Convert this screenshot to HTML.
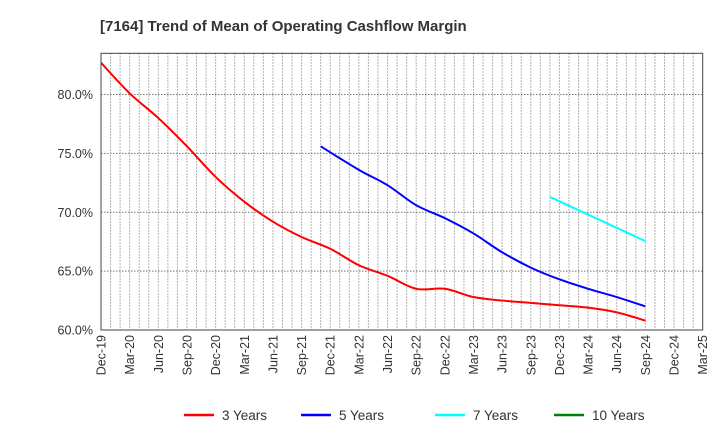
<!DOCTYPE html>
<html><head><meta charset="utf-8"><style>
body{margin:0;background:#fff;}
svg{display:block;font-family:"Liberation Sans",Arial,sans-serif;}
</style></head><body>
<svg id="c" width="720" height="440" viewBox="0 0 720 440">
<text x="100" y="31" font-size="15" font-weight="bold" fill="#333">[7164]  Trend of Mean of Operating Cashflow Margin</text>
<g id="grid"></g><g id="axes"></g><g id="series"></g><g id="legend"></g>
</svg>
<script>
const xLabels=["Dec-19","Mar-20","Jun-20","Sep-20","Dec-20","Mar-21","Jun-21","Sep-21","Dec-21","Mar-22","Jun-22","Sep-22","Dec-22","Mar-23","Jun-23","Sep-23","Dec-23","Mar-24","Jun-24","Sep-24","Dec-24","Mar-25"];
const yTicks=[60,65,70,75,80];
const months3=[0,3,6,9,12,15,18,21,24,27,30,33,36,39,42,45,48,51,54,57];
const vals3=[82.7,80.1,78.0,75.6,73.0,70.9,69.2,67.9,66.9,65.5,64.6,63.5,63.5,62.8,62.5,62.3,62.1,61.9,61.5,60.8];
const months5=[23,27,30,33,36,39,42,45,48,51,54,57];
const vals5=[75.6,73.6,72.3,70.6,69.5,68.2,66.6,65.3,64.3,63.5,62.8,62.0];
const months7=[47,57];
const vals7=[71.3,67.55];
const months10=[];
const vals10=[];
const L=101,R=702.7,T=53.3,B=330,ymin=60,ymax=83.5,mmax=63;
const xs=m=>L+(R-L)*m/mmax;
const ys=v=>B-(B-T)*(v-ymin)/(ymax-ymin);
const NS="http://www.w3.org/2000/svg";
function mk(tag,attrs,parent){const e=document.createElementNS(NS,tag);for(const k in attrs)e.setAttribute(k,attrs[k]);parent.appendChild(e);return e;}
const grid=document.getElementById('grid'),axes=document.getElementById('axes'),series=document.getElementById('series'),legend=document.getElementById('legend');
for(let m=1;m<mmax;m++){const l=mk('line',{x1:xs(m),x2:xs(m),y1:T,y2:B,stroke:'#999','stroke-width':1,'stroke-dasharray':'1.5,1.5'},grid);

}
yTicks.forEach(v=>{if(v>ymin){const l=mk('line',{x1:L,x2:R,y1:ys(v),y2:ys(v),stroke:'#777','stroke-width':1,'stroke-dasharray':'1.5,1.5'},grid);

}
const t=mk('text',{x:L-8,y:ys(v)+4.5,'text-anchor':'end','font-size':12.5,fill:'#333'},axes);t.textContent=v.toFixed(1)+'%';

});
const fr=mk('rect',{x:L,y:T,width:R-L,height:B-T,fill:'none',stroke:'#444','stroke-width':1},axes);


xLabels.forEach((s,i)=>{const x=xs(i*3)+4.5;const t=mk('text',{x:x,y:335,'text-anchor':'end','font-size':12.5,fill:'#333',transform:`rotate(-90 ${x} 335)`},axes);t.textContent=s;

});
function pathD(pts){if(pts.length<3)return 'M'+pts.map(p=>p.join(',')).join(' L');
let d='M'+pts[0][0]+','+pts[0][1];
for(let i=0;i<pts.length-1;i++){const p0=pts[Math.max(0,i-1)],p1=pts[i],p2=pts[i+1],p3=pts[Math.min(pts.length-1,i+2)];
const c1=[p1[0]+(p2[0]-p0[0])/6,p1[1]+(p2[1]-p0[1])/6],c2=[p2[0]-(p3[0]-p1[0])/6,p2[1]-(p3[1]-p1[1])/6];
d+=' C'+c1+' '+c2+' '+p2;}return d;}
function draw(ms,vs,col,name){if(!ms.length)return;const pts=ms.map((m,i)=>[xs(m),ys(vs[i])]);
const p=mk('path',{d:pathD(pts),fill:'none',stroke:col,'stroke-width':2,'stroke-linejoin':'round'},series);

}
draw(months3,vals3,'#ff0000','line-3-years');
draw(months5,vals5,'#0000ff','line-5-years');
draw(months7,vals7,'#00ffff','line-7-years');
draw(months10,vals10,'#008000','line-10-years');
const leg=[["3 Years","#ff0000",184],["5 Years","#0000ff",301],["7 Years","#00ffff",435],["10 Years","#008000",554]];
leg.forEach(([s,c,x])=>{const g=mk('g',{},legend);


mk('line',{x1:x,x2:x+30,y1:415,y2:415,stroke:c,'stroke-width':2.5},g);
const t=mk('text',{x:x+38,y:420,'font-size':13.5,fill:'#333'},g);t.textContent=s;});
</script>
</body></html>
